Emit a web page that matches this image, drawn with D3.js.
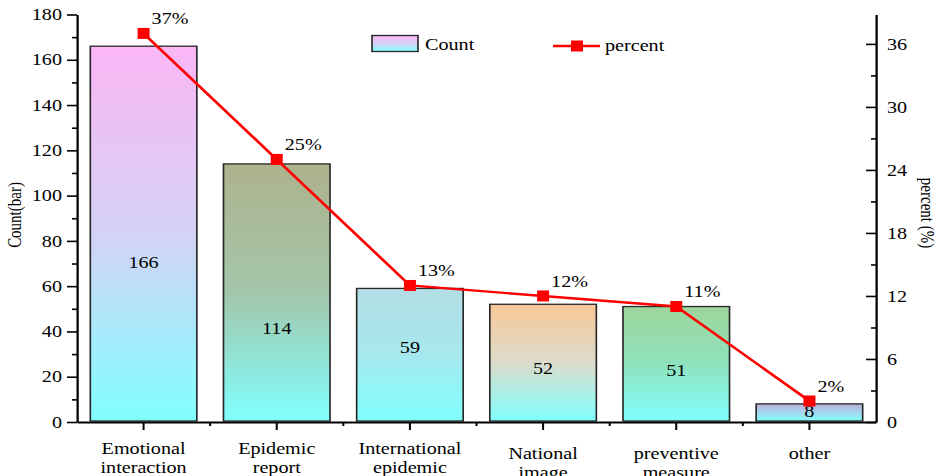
<!DOCTYPE html>
<html>
<head>
<meta charset="utf-8">
<script src="https://cdn.jsdelivr.net/npm/d3@7"></script>
<style>
  html, body { margin: 0; padding: 0; background: #fff; overflow: hidden; }
  svg { display: block; }
  svg text { font-family: "Liberation Serif", "Times New Roman", serif !important; fill: #000; }
</style>
</head>
<body>
<svg id="chart"></svg>
<script>
// ---- data ----
const categories = ["Emotional interaction", "Epidemic report", "International epidemic",
                    "National image", "preventive measure", "other"];
const categoryLines = [["Emotional", "interaction"], ["Epidemic", "report"], ["International", "epidemic"],
                       ["National", "image"], ["preventive", "measure"], ["other"]];
const counts = [166, 114, 59, 52, 51, 8];
const percents = [37, 25, 13, 12, 11, 2];
const countTicks = [0, 20, 40, 60, 80, 100, 120, 140, 160, 180];
const percentTicks = [0, 6, 12, 18, 24, 30, 36];

// ---- styling ----
const barTopColors = ["#fbb6f5", "#aeb28c", "#b3dde4", "#f8c797", "#9dd59b", "#bdaedb"];
const barMidColors = ["#d4d2f6", "#a3c6aa", "#a6e8ee", "#dcdccb", "#8fe2bd", "#a4d6ec"];
const barBottomColor = "#80ffff";
const labelLift = [0.41, 0.34, 0.52, 0.41, 0.40, 0.28];   // count label baseline, as share of bar value
const catLabelDrop = [0, 0, 0, 5, 5, 5];
const SERIF = "'Liberation Serif', 'Times New Roman', serif";

// The drawing is laid out on a narrower canvas and widened to the page.
const S = 1.26, H = 476, W = 939 / S;
const X = p => p / S;
const plotLeft = X(77), plotRight = X(876), plotTop = 14.5, plotBottom = 422;
const FS = 16;

const svg = d3.select("#chart")
  .attr("width", 939).attr("height", H)
  .attr("viewBox", `0 0 ${W} ${H}`)
  .attr("preserveAspectRatio", "none");

const x = d3.scaleBand().domain(categories).range([plotLeft, plotRight]).paddingInner(0.2).paddingOuter(0.1);
const yL = d3.scaleLinear().domain([0, 180]).range([plotBottom, plotTop]);
const yR = d3.scaleLinear().domain([0, 38.8]).range([plotBottom, plotTop]);

// gradients
const defs = svg.append("defs");
function addGrad(id, topC, midC) {
  const g = defs.append("linearGradient").attr("id", id)
    .attr("x1", 0).attr("y1", 0).attr("x2", 0).attr("y2", 1);
  g.append("stop").attr("offset", "0%").attr("stop-color", topC);
  g.append("stop").attr("offset", "50%").attr("stop-color", midC);
  g.append("stop").attr("offset", "100%").attr("stop-color", barBottomColor);
}
categories.forEach((c, i) => addGrad("bar" + i, barTopColors[i], barMidColors[i]));
addGrad("legendGrad", barTopColors[0], barMidColors[0]);

// bars
svg.append("g").selectAll("rect").data(counts).join("rect")
  .attr("x", (d, i) => x(categories[i]))
  .attr("y", d => yL(d))
  .attr("width", x.bandwidth())
  .attr("height", d => plotBottom - 1 - yL(d))
  .attr("fill", (d, i) => `url(#bar${i})`)
  .attr("stroke", "#262626").attr("stroke-width", 1.3);

// count labels inside bars
svg.append("g").selectAll("text").data(counts).join("text")
  .attr("x", (d, i) => x(categories[i]) + x.bandwidth() / 2)
  .attr("y", (d, i) => yL(d * labelLift[i]))
  .attr("text-anchor", "middle").attr("font-size", FS)
  .text(d => d);

// axes
function styleAxis(g) {
  g.attr("font-family", SERIF);
  g.selectAll(".domain").attr("stroke", "#000").attr("stroke-width", 1.8);
  g.selectAll(".tick line").attr("stroke", "#000").attr("stroke-width", 1.6);
  g.selectAll(".tick text").attr("font-size", FS).style("font-family", SERIF);
}

svg.append("g").attr("transform", `translate(${plotLeft},0)`)
  .call(d3.axisLeft(yL).tickValues(countTicks).tickSize(X(10)).tickSizeOuter(0).tickPadding(X(5)))
  .call(styleAxis);
svg.append("g").attr("transform", `translate(${plotLeft},0)`)
  .call(d3.axisLeft(yL).tickValues(d3.range(10, 180, 20)).tickSize(X(5)).tickFormat(""))
  .call(g => g.select(".domain").remove())
  .call(styleAxis);

svg.append("g").attr("transform", `translate(${plotRight},0)`)
  .call(d3.axisRight(yR).tickValues(percentTicks).tickSize(-X(10)).tickSizeOuter(0).tickPadding(X(11)))
  .call(styleAxis);
svg.append("g").attr("transform", `translate(${plotRight},0)`)
  .call(d3.axisRight(yR).tickValues(d3.range(3, 38, 6)).tickSize(-X(5)).tickFormat(""))
  .call(g => g.select(".domain").remove())
  .call(styleAxis);

svg.append("g").attr("transform", `translate(0,${plotBottom})`)
  .call(d3.axisBottom(x).tickSize(8).tickSizeOuter(0).tickFormat(""))
  .call(styleAxis);
// short ticks between categories
const gaps = categories.slice(1).map(c => x(c) - x.step() * x.paddingInner() / 2);
svg.append("g").selectAll("line").data(gaps).join("line")
  .attr("x1", d => d).attr("x2", d => d)
  .attr("y1", plotBottom).attr("y2", plotBottom + 4)
  .attr("stroke", "#000").attr("stroke-width", 1.6);

// category labels (second line runs to the bottom edge of the canvas)
svg.append("g").selectAll("text").data(categoryLines).join("text")
  .attr("text-anchor", "middle").attr("font-size", FS)
  .each(function (lines, i) {
    const t = d3.select(this);
    const cx = x(categories[i]) + x.bandwidth() / 2;
    lines.forEach((ln, k) => {
      t.append("tspan").attr("x", cx).attr("y", 454 + catLabelDrop[i] + k * 19).text(ln);
    });
  });

// percent line
const cxOf = i => x(categories[i]) + x.bandwidth() / 2;
svg.append("path").datum(percents)
  .attr("d", d3.line().x((d, i) => cxOf(i)).y(d => yR(d)))
  .attr("fill", "none").attr("stroke", "#ff0000").attr("stroke-width", 2.4);
const mw = X(12), mh = 11;
svg.append("g").selectAll("rect").data(percents).join("rect")
  .attr("x", (d, i) => cxOf(i) - mw / 2).attr("y", d => yR(d) - mh / 2)
  .attr("width", mw).attr("height", mh).attr("fill", "#ff0000");
svg.append("g").selectAll("text").data(percents).join("text")
  .attr("x", (d, i) => cxOf(i) + X(8)).attr("y", d => yR(d) - 9)
  .attr("font-size", FS).text(d => d + "%");

// legend
svg.append("rect").attr("x", X(372)).attr("y", 35.5).attr("width", X(46)).attr("height", 16)
  .attr("fill", "url(#legendGrad)").attr("stroke", "#262626").attr("stroke-width", 1.3);
svg.append("text").attr("x", X(425)).attr("y", 50).attr("font-size", FS).text("Count");
svg.append("line").attr("x1", X(553)).attr("x2", X(600)).attr("y1", 46).attr("y2", 46)
  .attr("stroke", "#ff0000").attr("stroke-width", 2.4);
svg.append("rect").attr("x", X(577) - mw / 2).attr("y", 46 - mh / 2).attr("width", mw).attr("height", mh)
  .attr("fill", "#ff0000");
svg.append("text").attr("x", X(605)).attr("y", 51).attr("font-size", FS).text("percent");

// axis titles
svg.append("text").attr("transform", `translate(${X(15)},215) rotate(-90)`)
  .attr("text-anchor", "middle").attr("dominant-baseline", "central")
  .attr("font-size", FS - 1).text("Count(bar)");
svg.append("text").attr("transform", `translate(${X(927)},213) rotate(90)`)
  .attr("text-anchor", "middle").attr("dominant-baseline", "central")
  .attr("font-size", FS - 1).text("percent (%)");
</script>
</body>
</html>
